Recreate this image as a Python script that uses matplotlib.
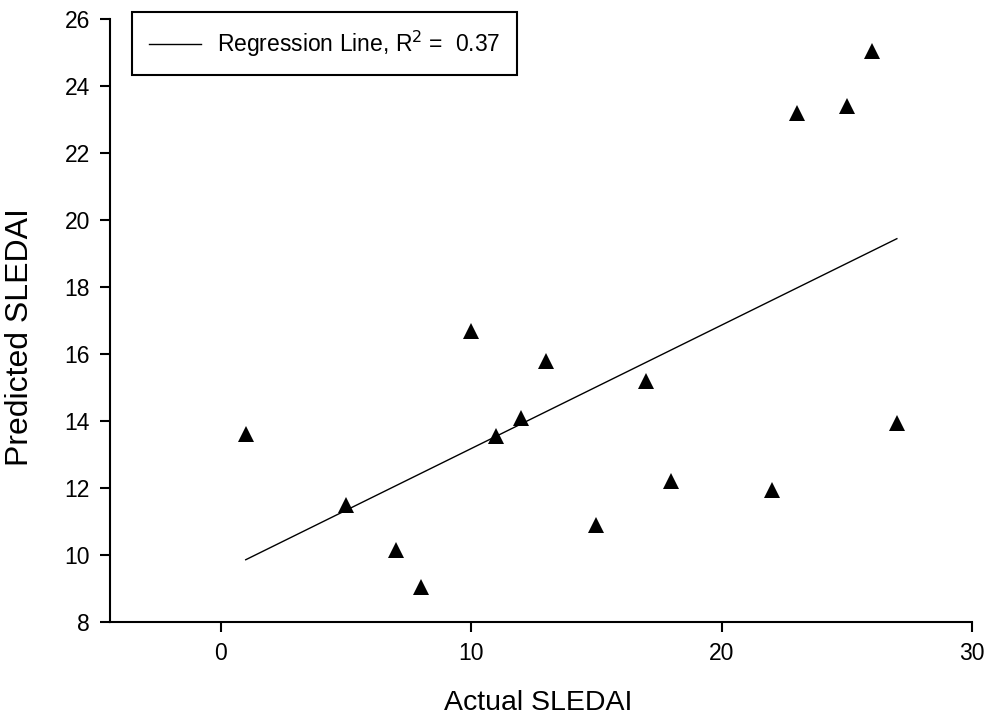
import numpy as np
import matplotlib
matplotlib.use("Agg")
import matplotlib.pyplot as plt

plt.rcParams['font.family'] = ['Liberation Sans', 'DejaVu Sans']

# actual vs predicted SLEDAI
actual = [1, 5, 7, 8, 10, 11, 12, 13, 15, 17, 18, 22, 23, 25, 26, 27]
predicted = [13.6, 11.5, 10.15, 9.05, 16.7, 13.55, 14.1, 15.8, 10.9,
             15.2, 12.2, 11.95, 23.2, 23.4, 25.05, 13.95]

x = np.array(actual, dtype=float)
y = np.array(predicted, dtype=float)
slope, intercept = np.polyfit(x, y, 1)
r2 = np.corrcoef(x, y)[0, 1] ** 2
xl = np.array([x.min(), x.max()])

fig = plt.figure(figsize=(9.88, 7.22), dpi=100)
ax = fig.add_axes([0.1113, 0.1385, 0.8725, 0.8352])

ax.plot(xl, slope * xl + intercept, color='black', lw=1.0,
        label='Regression Line, R$^2$ =  %.2f' % r2)
ax.plot(x, y, linestyle='none', marker='^', ms=11.5, color='black',
        markeredgewidth=0)

ax.set_xlim(-4.42, 30)
ax.set_ylim(8, 26)
ax.set_xticks([0, 10, 20, 30])
ax.set_yticks(np.arange(8, 27, 2))

for s in ['top', 'right']:
    ax.spines[s].set_visible(False)
for s in ['left', 'bottom']:
    ax.spines[s].set_linewidth(1.5)
ax.tick_params(direction='out', length=7.5, width=1.5, labelsize=16.5, pad=7)

ax.set_xlabel('Actual SLEDAI', fontsize=20.5)
ax.set_ylabel('Predicted SLEDAI', fontsize=23)
ax.xaxis.set_label_coords(0.4965, -0.113)
ax.yaxis.set_label_coords(-0.087, 0.472)

leg = ax.legend(loc='upper left', bbox_to_anchor=(132 / 988, 1 - 12 / 722),
                bbox_transform=fig.transFigure, fontsize=16.5, fancybox=False,
                frameon=True, borderpad=0.72, handlelength=2.3,
                handletextpad=0.7, borderaxespad=0)
leg.get_frame().set_edgecolor('black')
leg.get_frame().set_linewidth(1.5)
leg.get_frame().set_alpha(1)

fig.savefig('out.png', dpi=100)
